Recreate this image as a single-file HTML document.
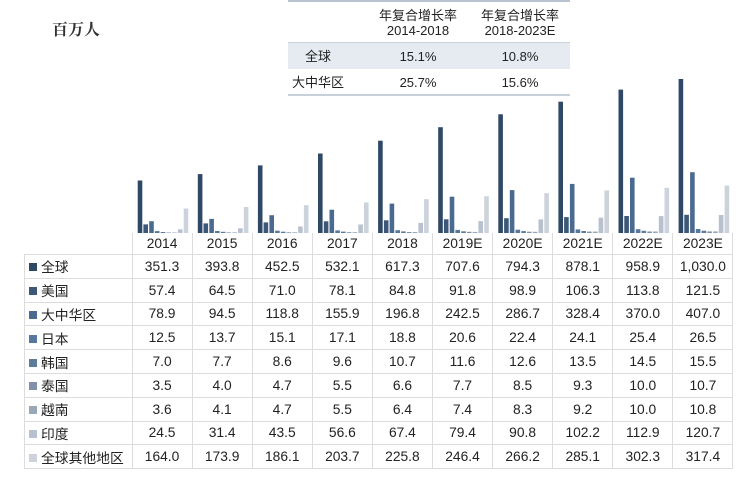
<!DOCTYPE html>
<html><head><meta charset="utf-8"><style>
body{margin:0;width:750px;height:477px;background:#fff;position:relative;overflow:hidden;font-family:"Liberation Sans","Noto Sans CJK SC",sans-serif;color:#222}
.t{position:absolute;left:52px;top:17px;font-family:"Liberation Serif","Noto Serif CJK SC",serif;font-size:16px;font-weight:bold;color:#333}
#cg{position:absolute;left:288px;top:0;width:282px;height:96px;border-top:2px solid #b9c3d0;border-bottom:2px solid #c8d0da;box-sizing:border-box}
#cg div{position:absolute;font-size:13px;text-align:center;line-height:15px}
table{position:absolute;left:24px;top:233px;border-collapse:collapse;font-size:13.8px}
td{border:1px solid #dcdcdc;height:22.8px;padding:0;text-align:center;width:59.1px}
td.l{width:107.5px;text-align:left;padding-left:4px;box-sizing:border-box;white-space:nowrap}
td.l i{display:inline-block;width:8px;height:8px;margin-right:4px;vertical-align:1px}
tr.h td{border-top:none;height:21px}
tr.h td.e{border:none;border-right:1px solid #dcdcdc}
</style></head><body>
<div class="t">百万人</div>
<div id="cg">
<div style="left:0;top:40px;width:282px;height:1px;background:#c8d0da"></div>
<div style="left:0;top:41px;width:282px;height:26px;background:#e6eaf1"></div>
<div style="left:85px;top:6px;width:90px">年复合增长率<br>2014-2018</div>
<div style="left:185px;top:6px;width:94px">年复合增长率<br>2018-2023E</div>
<div style="left:0;top:47px;width:60px">全球</div>
<div style="left:85px;top:47px;width:90px">15.1%</div>
<div style="left:185px;top:47px;width:94px">10.8%</div>
<div style="left:0;top:73px;width:60px">大中华区</div>
<div style="left:85px;top:73px;width:90px">25.7%</div>
<div style="left:185px;top:73px;width:94px">15.6%</div>
</div>
<svg id="s" width="750" height="477" style="position:absolute;left:0;top:0"></svg>
<table id="tb"></table>
<script>
var yrs=["2014","2015","2016","2017","2018","2019E","2020E","2021E","2022E","2023E"];
var rows=[["全球",[351.3,393.8,452.5,532.1,617.3,707.6,794.3,878.1,958.9,1030.0]],
["美国",[57.4,64.5,71.0,78.1,84.8,91.8,98.9,106.3,113.8,121.5]],
["大中华区",[78.9,94.5,118.8,155.9,196.8,242.5,286.7,328.4,370.0,407.0]],
["日本",[12.5,13.7,15.1,17.1,18.8,20.6,22.4,24.1,25.4,26.5]],
["韩国",[7.0,7.7,8.6,9.6,10.7,11.6,12.6,13.5,14.5,15.5]],
["泰国",[3.5,4.0,4.7,5.5,6.6,7.7,8.5,9.3,10.0,10.7]],
["越南",[3.6,4.1,4.7,5.5,6.4,7.4,8.3,9.2,10.0,10.8]],
["印度",[24.5,31.4,43.5,56.6,67.4,79.4,90.8,102.2,112.9,120.7]],
["全球其他地区",[164.0,173.9,186.1,203.7,225.8,246.4,266.2,285.1,302.3,317.4]]];
var cols=["#2f4865","#3c5878","#4a6a90","#56789c","#5d7b9a","#7f92a9","#9aa7b8","#b8c1cd","#cdd3db"];
var s="";
for(var j=0;j<10;j++){var x0=131.7+j*60.1+6;
for(var i=0;i<9;i++){var h=rows[i][1][j]*0.1495;s+='<rect x="'+(x0+i*5.75).toFixed(1)+'" y="'+(233-h).toFixed(1)+'" width="4.6" height="'+h.toFixed(1)+'" fill="'+cols[i]+'"/>';}}
document.getElementById("s").innerHTML=s;
var t='<tr class="h"><td class="l e"></td>';yrs.forEach(function(y){t+='<td>'+y+'</td>'});t+='</tr>';
rows.forEach(function(r,i){t+='<tr><td class="l"><i style="background:'+cols[i]+'"></i>'+r[0]+'</td>';
r[1].forEach(function(v){var s=v.toFixed(1);if(v>=1000)s="1,"+s.slice(1);t+='<td>'+s+'</td>'});t+='</tr>'});
document.getElementById("tb").innerHTML=t;
</script>
</body></html>
